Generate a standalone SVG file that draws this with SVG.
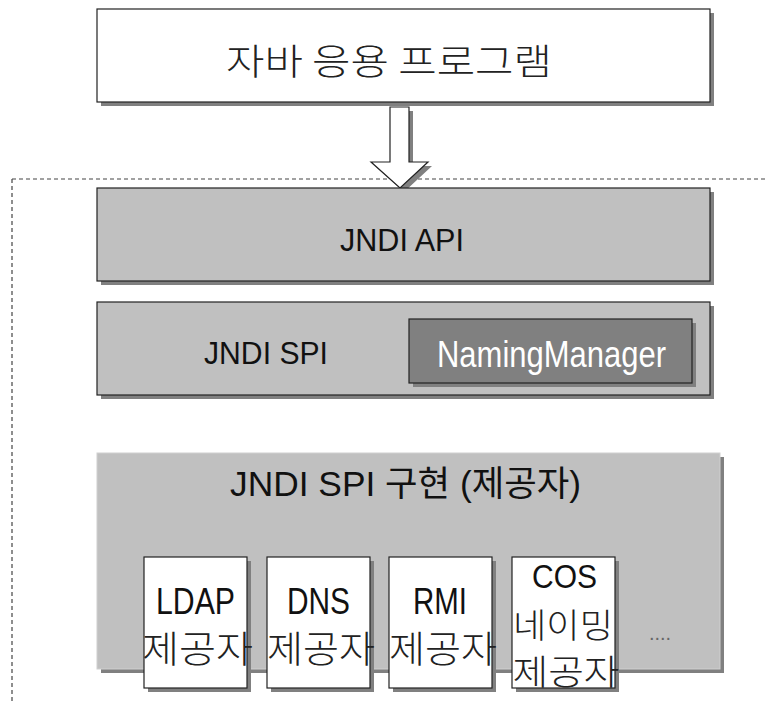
<svg xmlns="http://www.w3.org/2000/svg" width="766" height="703" viewBox="0 0 766 703">
  <defs>
    <style>
      .shadow { fill: #808080; stroke: none; }
      .box { stroke: #222; stroke-width: 1.2; }
      .white { fill: #ffffff; }
      .gray { fill: #c0c0c0; }
      .dark { fill: #808080; }
      .lat { font-family: "Liberation Sans", "Noto Sans CJK KR", Arial, sans-serif; fill: #111; }
      .kor { font-family: "Noto Sans CJK KR", "Liberation Sans", sans-serif; fill: #222; font-weight: 300; }
      .dash { fill: none; stroke: #444; stroke-width: 1.2; stroke-dasharray: 4 3; }
    </style>
  </defs>
  <rect width="766" height="703" fill="#ffffff"/>

  <g id="boundary">
    <path class="dash" d="M12 179 H766 M12 179 V703"/>
  </g>

  <g id="app">
    <rect class="shadow" x="101" y="13" width="613" height="93"/>
    <rect class="box white" x="97" y="9" width="613" height="93"/>
    <text class="kor" x="226" y="75" font-size="36" textLength="326" lengthAdjust="spacingAndGlyphs">자바 응용 프로그램</text>
  </g>

  <g id="connectors">
    <polygon class="shadow" points="394,111 413,111 413,166 432,166 404,192 375,166 394,166"/>
    <polygon fill="#ffffff" stroke="#222" stroke-width="1.2" points="390,107 409,107 409,162 428,162 400,188 371,162 390,162"/>
  </g>

  <g id="jndi-api">
    <rect class="shadow" x="101" y="192" width="613" height="93"/>
    <rect class="box gray" x="97" y="188" width="613" height="93"/>
    <text class="lat" x="340" y="251" font-size="32" textLength="124" lengthAdjust="spacingAndGlyphs">JNDI API</text>
  </g>

  <g id="jndi-spi">
    <rect class="shadow" x="101" y="306" width="613" height="93"/>
    <rect class="box gray" x="97" y="302" width="613" height="93"/>
    <text class="lat" x="204" y="364" font-size="32" textLength="124" lengthAdjust="spacingAndGlyphs">JNDI SPI</text>
  </g>

  <g id="naming-manager">
    <rect class="shadow" x="413" y="323" width="283" height="64"/>
    <rect class="box dark" x="409" y="319" width="283" height="64"/>
    <text x="437" y="367" font-size="36" textLength="229" lengthAdjust="spacingAndGlyphs" font-family="Liberation Sans, Arial, sans-serif" fill="#ffffff">NamingManager</text>
  </g>

  <g id="spi-impl">
    <rect class="shadow" x="101" y="457" width="623" height="216"/>
    <rect x="97" y="453" width="623" height="216" fill="#c0c0c0" stroke="#d0d0d0" stroke-width="1"/>
    <text class="lat" x="230" y="496" font-size="35" textLength="351" lengthAdjust="spacingAndGlyphs">JNDI SPI 구현 (제공자)</text>
  </g>

  <g id="ldap">
    <rect class="shadow" x="148" y="561" width="103" height="131"/>
    <rect class="box white" x="144" y="557" width="103" height="131"/>
    <text class="lat" x="195.5" y="614" font-size="37" text-anchor="middle" textLength="79" lengthAdjust="spacingAndGlyphs">LDAP</text>
    <text class="kor" x="197.5" y="663" font-size="37" text-anchor="middle" textLength="111" lengthAdjust="spacingAndGlyphs">제공자</text>
  </g>

  <g id="dns">
    <rect class="shadow" x="271" y="561" width="103" height="131"/>
    <rect class="box white" x="267" y="557" width="103" height="131"/>
    <text class="lat" x="318.5" y="614" font-size="37" text-anchor="middle" textLength="63" lengthAdjust="spacingAndGlyphs">DNS</text>
    <text class="kor" x="321" y="663" font-size="37" text-anchor="middle" textLength="108" lengthAdjust="spacingAndGlyphs">제공자</text>
  </g>

  <g id="rmi">
    <rect class="shadow" x="393" y="561" width="103" height="131"/>
    <rect class="box white" x="389" y="557" width="103" height="131"/>
    <text class="lat" x="440" y="614" font-size="37" text-anchor="middle" textLength="54" lengthAdjust="spacingAndGlyphs">RMI</text>
    <text class="kor" x="443" y="663" font-size="37" text-anchor="middle" textLength="108" lengthAdjust="spacingAndGlyphs">제공자</text>
  </g>

  <g id="cos">
    <rect class="shadow" x="516" y="561" width="103" height="131"/>
    <rect class="box white" x="512" y="557" width="103" height="131"/>
    <text class="lat" x="564.5" y="588" font-size="33" text-anchor="middle" textLength="65" lengthAdjust="spacingAndGlyphs">COS</text>
    <text class="kor" x="563" y="638" font-size="34" text-anchor="middle" textLength="100" lengthAdjust="spacingAndGlyphs">네이밍</text>
    <text class="kor" x="566" y="685" font-size="35" text-anchor="middle" textLength="107" lengthAdjust="spacingAndGlyphs">제공자</text>
  </g>

  <g id="more">
    <text x="660" y="640" font-size="20" text-anchor="middle" font-family="Liberation Sans, Arial, sans-serif" fill="#666">....</text>
  </g>
</svg>
